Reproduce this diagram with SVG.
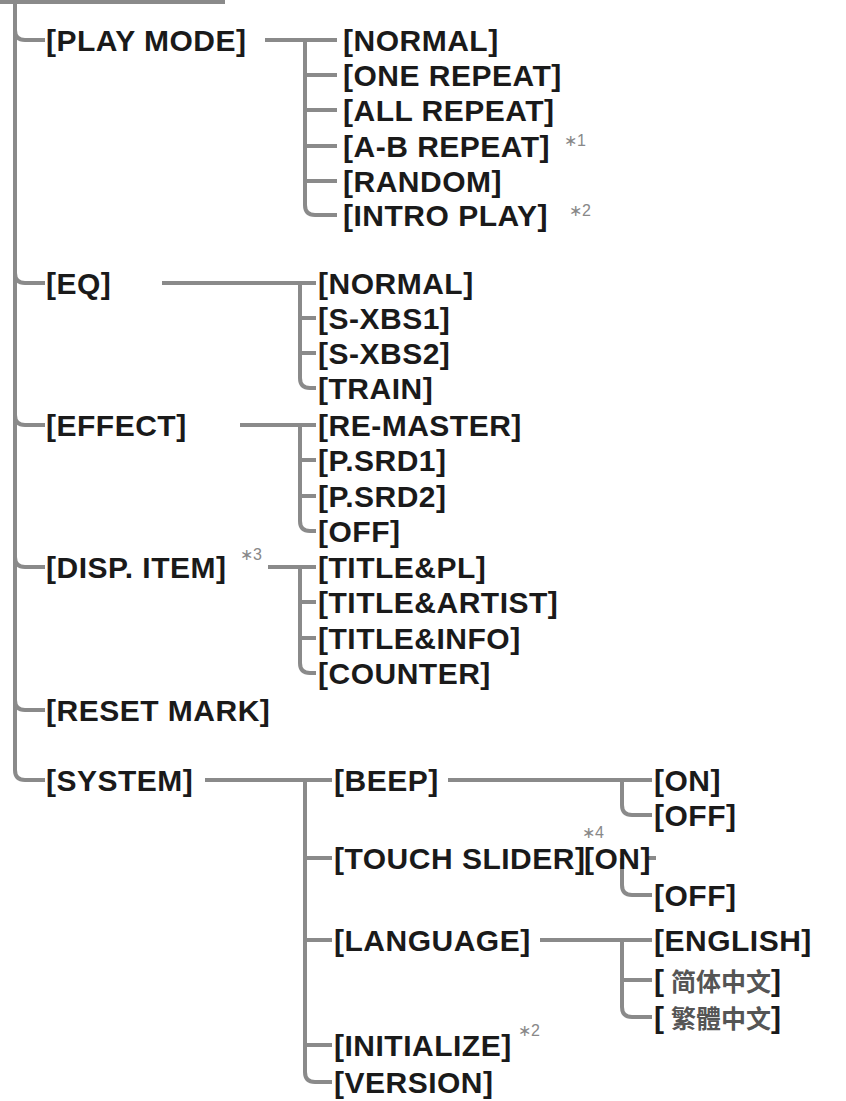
<svg xmlns="http://www.w3.org/2000/svg" width="846" height="1101" viewBox="0 0 846 1101">
<style>
.t{font-family:"Liberation Sans",Arial,sans-serif;font-weight:bold;font-size:30px;letter-spacing:0.5px;fill:#1a1a1a}
.c{font-family:"Liberation Sans","Noto Sans CJK SC","Noto Sans CJK TC",sans-serif;font-weight:bold;font-size:30px;fill:#1a1a1a}
.cj{fill:#555}
.n{font-family:"Liberation Sans",Arial,sans-serif;font-size:16px;fill:#888}
.l{fill:none;stroke:#8a8a8a;stroke-width:4;stroke-linecap:butt}
</style>
<rect width="846" height="1101" fill="#fff"/>
<g id="connectors" class="l">
<path d="M0,2H225"/>
<path d="M15,0V770Q15,780 25,780H45"/>
<path d="M15,30Q15,40 25,40H45"/><path d="M15,273Q15,283 25,283H45"/><path d="M15,415Q15,425 25,425H45"/><path d="M15,557Q15,567 25,567H45"/><path d="M15,700Q15,710 25,710H45"/>
<path d="M265,40H337"/><path d="M305,40V205Q305,215 315,215H337"/><path d="M305,75H337"/><path d="M305,110H337"/><path d="M305,146H337"/><path d="M305,181H337"/>
<path d="M162,283H316"/><path d="M300,283V378Q300,388 310,388H316"/><path d="M300,318H316"/><path d="M300,353H316"/>
<path d="M240,425H316"/><path d="M300,425V521Q300,531 310,531H316"/><path d="M300,460H316"/><path d="M300,496H316"/>
<path d="M268,567H316"/><path d="M300,567V663Q300,673 310,673H316"/><path d="M300,602H316"/><path d="M300,638H316"/>
<path d="M205,780H332"/><path d="M305,780V1072Q305,1082 315,1082H332"/><path d="M305,858H332"/><path d="M305,940H332"/><path d="M305,1045H332"/>
<path d="M448,780H652"/><path d="M622,780V805Q622,815 632,815H652"/>
<path d="M648,858H656"/><path d="M622,858V885Q622,895 632,895H652"/>
<path d="M540,940H652"/><path d="M622,940V1007Q622,1017 632,1017H652"/><path d="M622,980H652"/>
</g>
<g id="l1">
<text class="t" x="46" y="51">[PLAY MODE]</text>
<text class="t" x="46" y="294">[EQ]</text>
<text class="t" x="46" y="436">[EFFECT]</text>
<text class="t" x="46" y="578">[DISP. ITEM]</text><text class="n" x="240" y="560">∗3</text>
<text class="t" x="46" y="721">[RESET MARK]</text>
<text class="t" x="46" y="791">[SYSTEM]</text>
</g>
<g id="playmode">
<text class="t" x="343" y="51">[NORMAL]</text>
<text class="t" x="343" y="86">[ONE REPEAT]</text>
<text class="t" x="343" y="121">[ALL REPEAT]</text>
<text class="t" x="343" y="157">[A-B REPEAT]</text><text class="n" x="564" y="146">∗1</text>
<text class="t" x="343" y="192">[RANDOM]</text>
<text class="t" x="343" y="226">[INTRO PLAY]</text><text class="n" x="569" y="216">∗2</text>
</g>
<g id="eq">
<text class="t" x="318" y="294">[NORMAL]</text>
<text class="t" x="318" y="329">[S-XBS1]</text>
<text class="t" x="318" y="364">[S-XBS2]</text>
<text class="t" x="318" y="399">[TRAIN]</text>
</g>
<g id="effect">
<text class="t" x="318" y="436">[RE-MASTER]</text>
<text class="t" x="318" y="471">[P.SRD1]</text>
<text class="t" x="318" y="507">[P.SRD2]</text>
<text class="t" x="318" y="542">[OFF]</text>
</g>
<g id="disp">
<text class="t" x="318" y="578">[TITLE&amp;PL]</text>
<text class="t" x="318" y="613">[TITLE&amp;ARTIST]</text>
<text class="t" x="318" y="649">[TITLE&amp;INFO]</text>
<text class="t" x="318" y="684">[COUNTER]</text>
</g>
<g id="system">
<text class="t" x="334" y="791">[BEEP]</text>
<text class="t" x="334" y="869">[TOUCH SLIDER]</text>
<text class="t" x="584" y="869">[ON]</text><text class="n" x="582" y="838">∗4</text>
<text class="t" x="334" y="951">[LANGUAGE]</text>
<text class="t" x="334" y="1056">[INITIALIZE]</text><text class="n" x="518" y="1036">∗2</text>
<text class="t" x="334" y="1093">[VERSION]</text>
<text class="t" x="654" y="791">[ON]</text>
<text class="t" x="654" y="826">[OFF]</text>
<text class="t" x="654" y="906">[OFF]</text>
<text class="t" x="654" y="951">[ENGLISH]</text>
<text class="c" x="654" y="991">[<tspan class="cj" font-size="25"> 简体中文</tspan>]</text>
<text class="c" x="654" y="1028">[<tspan class="cj" font-size="25"> 繁體中文</tspan>]</text>
</g>
</svg>
